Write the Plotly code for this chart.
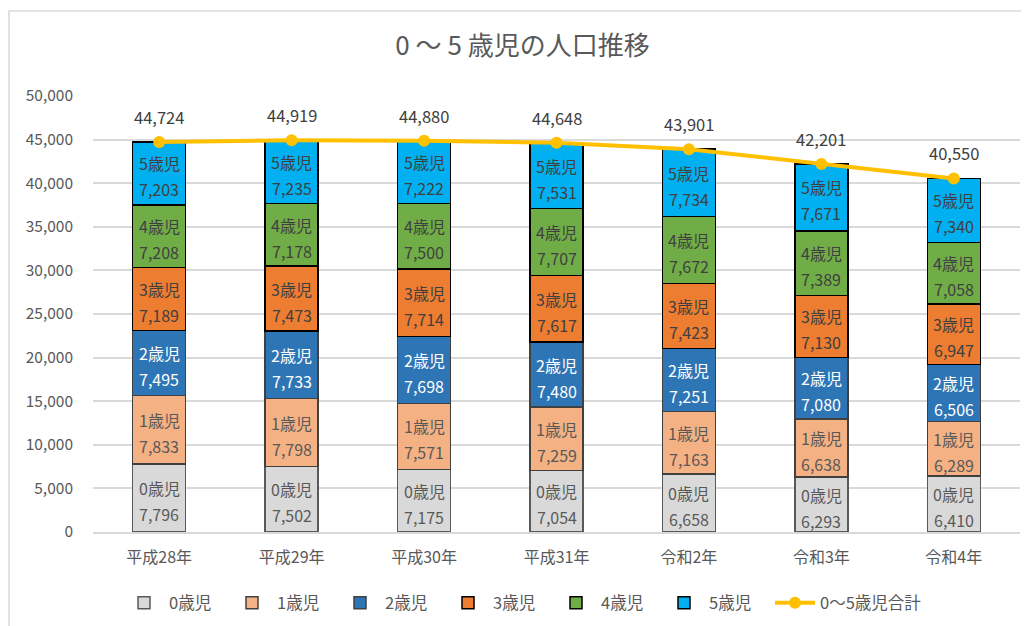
import plotly.graph_objects as go

years = ["平成28年", "平成29年", "平成30年", "平成31年", "令和2年", "令和3年", "令和4年"]
age0 = [7796, 7502, 7175, 7054, 6658, 6293, 6410]
age1 = [7833, 7798, 7571, 7259, 7163, 6638, 6289]
age2 = [7495, 7733, 7698, 7480, 7251, 7080, 6506]
age3 = [7189, 7473, 7714, 7617, 7423, 7130, 6947]
age4 = [7208, 7178, 7500, 7707, 7672, 7389, 7058]
age5 = [7203, 7235, 7222, 7531, 7734, 7671, 7340]
total = [44724, 44919, 44880, 44648, 43901, 42201, 40550]
series_names = ["0歳児", "1歳児", "2歳児", "3歳児", "4歳児", "5歳児"]
total_name = "0～5歳児合計"
title_text = "0 ～ 5 歳児の人口推移"
yticks = [0, 5000, 10000, 15000, 20000, 25000, 30000, 35000, 40000, 45000, 50000]

FONT = "Noto Sans CJK JP"
colors = ["#D9D9D9", "#F4B183", "#2E75B6", "#ED7D31", "#70AD47", "#00B0F0"]
text_colors = ["#595959", "#595959", "#FFFFFF", "#404040", "#404040", "#404040"]
line_colors = ["#595959", "#404040", "#404040", "#000000", "#000000", "#000000"]

fig = go.Figure()
base = [0] * len(years)
for name, vals, c, tc, lc in zip(series_names, [age0, age1, age2, age3, age4, age5], colors, text_colors, line_colors):
    fig.add_trace(go.Bar(
        x=years, y=vals, name=name,
        marker=dict(color=c, line=dict(color=lc, width=1.5)),
        width=0.4, legend="legend",
    ))
    # segment labels (name and value) at the middle of each stacked segment
    for i, (yr, v) in enumerate(zip(years, vals)):
        mid = base[i] + v / 2
        fig.add_annotation(x=yr, y=mid, text=name, showarrow=False, yshift=10,
                           font=dict(family=FONT, size=16, color=tc))
        fig.add_annotation(x=yr, y=mid, text=f"{v:,}", showarrow=False, yshift=-16,
                           font=dict(family=FONT, size=16, color=tc))
        base[i] += v

fig.add_trace(go.Scatter(
    x=years, y=total, name=total_name, mode="lines+markers",
    line=dict(color="#FFC000", width=4),
    marker=dict(color="#FFC000", size=12),
    legend="legend2",
))
for yr, v in zip(years, total):
    fig.add_annotation(x=yr, y=v, text=f"{v:,}", showarrow=False, yshift=25,
                       font=dict(family=FONT, size=16.5, color="#404040"))

legend_font = dict(family=FONT, size=16.5, color="#595959")
fig.update_layout(
    barmode="stack",
    width=1029, height=626,
    margin=dict(l=85, r=17, t=88, b=102),
    paper_bgcolor="white", plot_bgcolor="white",
    font=dict(family=FONT, color="#595959"),
    title=dict(text=title_text, x=0.5, xanchor="center", y=1 - 38 / 626, yanchor="middle",
               font=dict(family=FONT, size=26, color="#595959")),
    legend=dict(orientation="h", x=(119 - 85 - 8) / 927, xanchor="left", y=-0.163, yanchor="middle",
                font=legend_font, traceorder="normal",
                itemwidth=40, entrywidth=53, entrywidthmode="pixels"),
    legend2=dict(orientation="h", x=(770 - 85 - 8) / 927, xanchor="left", y=-0.163, yanchor="middle",
                 font=legend_font, itemwidth=40),
    showlegend=True,
)
fig.update_yaxes(range=[0, 50000], tickvals=yticks, tickformat=",", gridcolor="#D9D9D9", gridwidth=1.5,
                 zeroline=False, showline=False, tickfont=dict(family=FONT, size=15.5, color="#595959"),
                 ticks="", ticklabelstandoff=19)
fig.update_xaxes(showline=True, linecolor="#D9D9D9", linewidth=1.5, ticks="",
                 tickfont=dict(family=FONT, size=16, color="#595959"), ticklabelstandoff=10)
fig.add_shape(type="rect", xref="paper", yref="paper", x0=-84 / 927, x1=1.1, y0=-0.4, y1=(524 - 3) / 436,
              line=dict(color="#D9D9D9", width=1.5), fillcolor="rgba(0,0,0,0)", layer="below")

fig.write_html("out.html")
